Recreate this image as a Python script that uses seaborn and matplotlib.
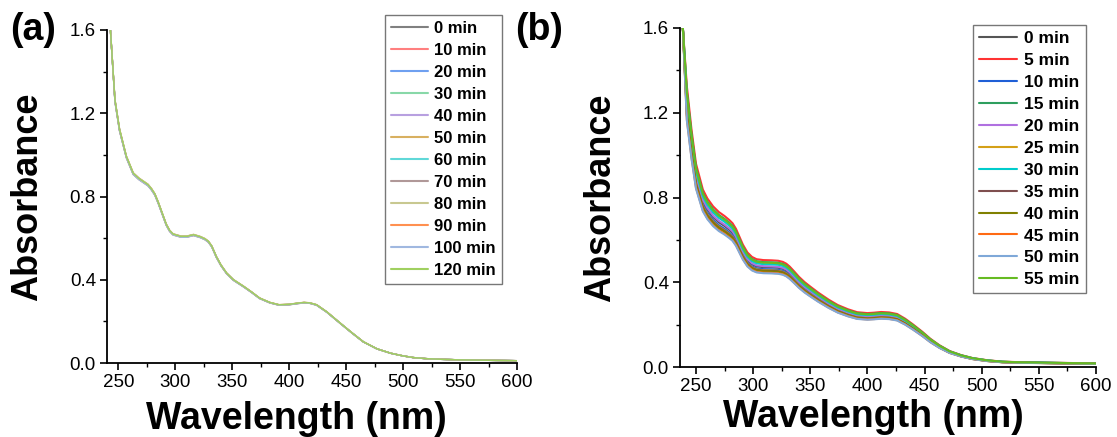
import numpy as np
import pandas as pd
import matplotlib
matplotlib.use("Agg")
import matplotlib.pyplot as plt
import seaborn as sns
from matplotlib.ticker import MultipleLocator

# ---------------- data ----------------
# Panel (a): spectra nearly overlapping
wl_a = [243, 247, 251, 257, 263, 268, 272, 276, 279, 282, 285, 289, 292, 295, 298,
        305, 310, 316, 322, 326, 329, 332, 336, 340, 345, 351, 360, 367, 374, 383,
        391, 400, 408, 413, 418, 424, 433, 445, 455, 465, 477, 489, 500, 509, 520,
        532, 550, 575, 600]
abs_a = [1.60, 1.26, 1.12, 0.99, 0.91, 0.885, 0.87, 0.855, 0.835, 0.81, 0.77, 0.71,
         0.665, 0.635, 0.618, 0.607, 0.607, 0.615, 0.605, 0.595, 0.583, 0.56, 0.51,
         0.47, 0.431, 0.399, 0.367, 0.34, 0.311, 0.29, 0.279, 0.281, 0.287, 0.29,
         0.288, 0.279, 0.245, 0.19, 0.145, 0.102, 0.068, 0.047, 0.034, 0.026, 0.021,
         0.018, 0.015, 0.013, 0.011]
times_a = ["0 min", "10 min", "20 min", "30 min", "40 min", "50 min", "60 min",
           "70 min", "80 min", "90 min", "100 min", "120 min"]
scale_a = [1.000, 1.004, 0.998, 1.002, 0.997, 1.003, 0.999, 1.001, 1.005, 0.996,
           0.995, 1.002]
colors_a = ["#808080", "#FF7F7F", "#6FA0F0", "#88D8A8", "#B8A0E0", "#D8B060",
            "#60D8D8", "#B09898", "#C8C890", "#FF9050", "#A0B8E0", "#A0D060"]

# Panel (b): spectra with spread
wl_b = [238.5, 242, 246, 250, 256, 260, 265, 270, 275, 279, 282, 285, 288, 291,
        295, 299, 303, 309, 316, 322, 326, 329, 332, 336, 340, 345, 350, 357, 366,
        374, 383, 391, 400, 406, 412, 419, 426, 433, 440, 448, 455, 463, 472, 482,
        492, 505, 518, 535, 550, 575, 600]
abs_b = [1.60, 1.25, 1.06, 0.905, 0.79, 0.75, 0.715, 0.69, 0.672, 0.655, 0.64,
         0.615, 0.58, 0.545, 0.51, 0.49, 0.48, 0.476, 0.475, 0.473, 0.468, 0.46,
         0.447, 0.425, 0.402, 0.378, 0.358, 0.331, 0.30, 0.276, 0.257, 0.244, 0.240,
         0.242, 0.245, 0.243, 0.236, 0.215, 0.189, 0.157, 0.126, 0.097, 0.071,
         0.053, 0.040, 0.030, 0.024, 0.021, 0.020, 0.018, 0.016]
times_b = ["0 min", "5 min", "10 min", "15 min", "20 min", "25 min", "30 min",
           "35 min", "40 min", "45 min", "50 min", "55 min"]
scale_b = [0.99, 1.06, 0.97, 1.04, 1.00, 0.96, 1.02, 0.955, 0.95, 0.935, 0.93, 1.035]
colors_b = ["#555555", "#FF3333", "#1F5FD6", "#2E9E5E", "#B070E0", "#D4A017",
            "#00CCCC", "#7F4F4F", "#808000", "#FF6A13", "#7FA8D8", "#66BB22"]


def build(wl, base, times, scales):
    rows = []
    for t, s in zip(times, scales):
        for w, a in zip(wl, base):
            v = 1.6 if a >= 1.6 else min(a * s, 1.6)
            rows.append((w, v, t))
    return pd.DataFrame(rows, columns=["wl", "abs", "time"])


df_a = build(wl_a, abs_a, times_a, scale_a)
df_b = build(wl_b, abs_b, times_b, scale_b)

# ---------------- figure ----------------
sns.set_style("ticks")
plt.rcParams["font.family"] = ["Liberation Sans", "DejaVu Sans"]
plt.rcParams["text.color"] = "black"
plt.rcParams["axes.labelcolor"] = "black"
plt.rcParams["xtick.color"] = "black"
plt.rcParams["ytick.color"] = "black"

W, H = 1117, 437
fig = plt.figure(figsize=(W / 100, H / 100), dpi=100)


def fx(px):
    return px / W


def fy(py):
    return 1 - py / H


ax_a = fig.add_axes([fx(107), fy(363), fx(517) - fx(107), fy(30) - fy(363)])
ax_b = fig.add_axes([fx(680), fy(367), fx(1096) - fx(680), fy(28) - fy(367)])


def style(ax, xlim, leg_x, leg_y, fs_leg, lsp, df, times, colors, lw,
          ylab_x, xlab_x, xlab_y):
    sns.lineplot(data=df, x="wl", y="abs", hue="time", hue_order=times,
                 palette=dict(zip(times, colors)), estimator=None, sort=False,
                 linewidth=lw, ax=ax, legend=True)
    ax.set_xlim(*xlim)
    ax.set_ylim(0, 1.6)
    ax.xaxis.set_minor_locator(MultipleLocator(25))
    ax.yaxis.set_minor_locator(MultipleLocator(0.2))
    ax.set_xticks([250, 300, 350, 400, 450, 500, 550, 600])
    ax.set_yticks([0.0, 0.4, 0.8, 1.2, 1.6])
    ax.set_yticklabels(["0.0", "0.4", "0.8", "1.2", "1.6"])
    for s in ["top", "right"]:
        ax.spines[s].set_visible(False)
    for s in ["left", "bottom"]:
        ax.spines[s].set_linewidth(1.3)
        ax.spines[s].set_color("black")
    ax.tick_params(which="major", direction="out", length=5, width=1.2,
                   labelsize=13.5, colors="black", pad=3)
    ax.tick_params(which="minor", direction="out", length=3, width=1.0,
                   colors="black")
    ax.set_xlabel("Wavelength (nm)", fontsize=27, fontweight="bold", color="black")
    ax.set_ylabel("Absorbance", fontsize=26, fontweight="bold", color="black")
    ax.yaxis.set_label_coords(ylab_x, 0.5)
    ax.xaxis.set_label_coords(xlab_x, xlab_y)
    handles, labels = ax.get_legend_handles_labels()
    leg = ax.legend(handles, labels, loc="upper left",
                    bbox_to_anchor=(fx(leg_x), fy(leg_y)),
                    bbox_transform=fig.transFigure, borderaxespad=0,
                    fancybox=False, framealpha=1, edgecolor="#777777",
                    prop={"weight": "bold", "size": fs_leg},
                    handlelength=2.2, handletextpad=0.4, labelspacing=lsp,
                    borderpad=0.35)
    leg.get_frame().set_linewidth(1.0)
    for line in leg.get_lines():
        line.set_linewidth(1.5)
    for t in leg.get_texts():
        t.set_color("black")


style(ax_a, (240, 600), 385, 15, 12, 0.42, df_a, times_a, colors_a, 1.0,
      -0.152, 0.462, -0.115)
style(ax_b, (236, 600), 973, 25, 12.5, 0.39, df_b, times_b, colors_b, 1.5,
      -0.15, 0.464, -0.095)

fig.text(fx(10), fy(30), "(a)", fontsize=27, fontweight="bold", va="center",
         ha="left", color="black")
fig.text(fx(515), fy(30), "(b)", fontsize=27, fontweight="bold", va="center",
         ha="left", color="black")

fig.savefig("out.png", dpi=100)
